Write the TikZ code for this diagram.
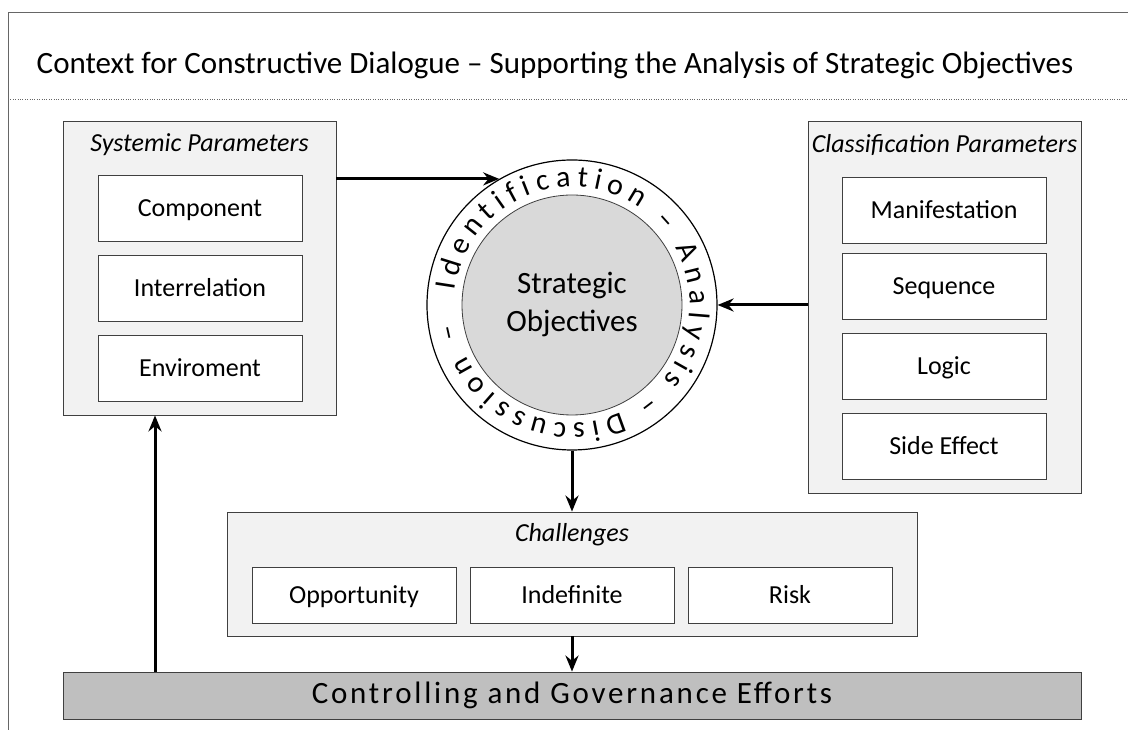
\documentclass[tikz,border=0pt]{standalone}
\usepackage{fontspec}
\setmainfont{Carlito}
\usetikzlibrary{arrows.meta, decorations.text}

\begin{document}
\begin{tikzpicture}[
  x=1pt, y=1pt,
  every node/.style={rectangle, draw=black!75, line width=0.8pt, inner sep=0pt,
    font=\fontsize{26}{30}\selectfont},
  group/.style={fill=black!5, minimum width=273pt},
  item/.style={fill=white, minimum width=204pt, minimum height=66pt,
    text height=17pt, text depth=0pt},
  caption/.style={draw=none, font=\fontsize{26}{30}\selectfont\itshape},
  flow/.style={line width=3pt, -{Stealth[length=16pt, width=13pt]}}
]
\useasboundingbox (0,0) rectangle (1128,730);
% frame and heading
\draw[black!60, line width=0.8pt] (8,0) -- (8,718) -- (1128,718);
\draw[black!60, dotted] (8,631) -- (1128,631);
\node[draw=none, font=\fontsize{31}{34}\selectfont] (title) at (555,665)
  {Context for Constructive Dialogue – Supporting the Analysis of Strategic Objectives};

% systemic parameters
\node[group, minimum height=294pt] (sys) at (199.5,462) {};
\node[caption] (syscap) at (199.5,585) {Systemic Parameters};
\node[item] (comp) at (200,522) {Component};
\node[item] (inter) at (200,442) {Interrelation};
\node[item] (env) at (200,362) {Enviroment};

% classification parameters
\node[group, minimum height=372pt] (cls) at (944.5,423) {};
\node[caption] (clscap) at (944.5,585) {Classification Parameters};
\node[item] (mani) at (944,519.5) {Manifestation};
\node[item] (seq) at (944,443.5) {Sequence};
\node[item] (logic) at (944,364) {Logic};
\node[item] (side) at (944,284) {Side Effect};

% strategic objectives
\node[circle, draw=black, line width=1.2pt, fill=white, minimum size=290pt] (ring) at (572,425) {};
\node[circle, fill=black!15, minimum size=220pt, align=center,
  font=\fontsize{31}{38}\selectfont] (core) at (572,425) {Strategic\\Objectives};
\path[decorate, decoration={text along path, text align=fit to path,
  text={|\fontsize{30}{30}\selectfont|Identification – Analysis – Discussion –}}]
  ([shift={(173:118)}]ring.center) arc[start angle=173, end angle=-171, radius=118];

% challenges
\node[group, minimum width=690pt, minimum height=124pt] (chal) at (572,156) {};
\node[caption] (chalcap) at (572,195) {Challenges};
\node[item, minimum height=56pt] (opp) at (354,135) {Opportunity};
\node[item, minimum height=56pt] (indef) at (572,135) {Indefinite};
\node[item, minimum height=56pt] (risk) at (790,135) {Risk};

% controlling
\node[fill=black!25, minimum width=1018pt, minimum height=47pt,
  font=\fontsize{31}{33}\selectfont\addfontfeatures{LetterSpace=9}] (ctrl) at (572,34.5)
  {Controlling and Governance Efforts};

% connectors
\draw[flow] (sys.east |- ring.120) -- (ring.120);
\draw[flow] (cls.west |- ring.east) -- (ring.east);
\draw[flow] (ring.south) -- (chal.north);
\draw[flow] (chal.south) -- (ctrl.north);
\coordinate (back) at (155,58);
\draw[flow] (back) -- (back |- sys.south);
\end{tikzpicture}
\end{document}
